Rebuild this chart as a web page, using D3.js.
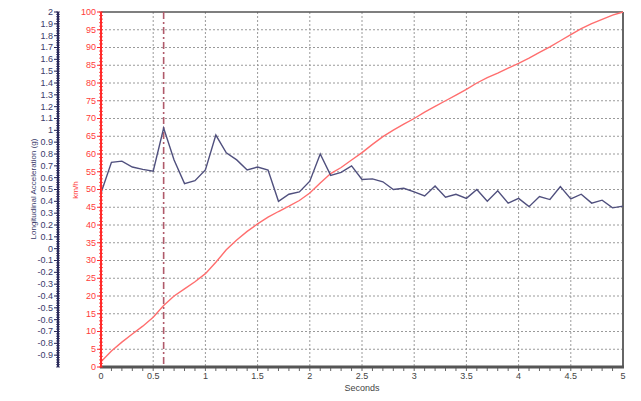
<!DOCTYPE html>
<html>
<head>
<meta charset="utf-8">
<script src="https://cdn.jsdelivr.net/npm/d3@7"></script>
<style>
  body { margin: 0; background: #fff; }
  svg { font-family: "Liberation Sans", Arial, sans-serif; }
</style>
</head>
<body>
<svg id="chart" width="641" height="401"></svg>
<script>
// time samples every 0.1 s
const times = d3.range(0, 51).map(i => i / 10);

// longitudinal acceleration (g)
const accel = [0.47, 0.73, 0.74, 0.69, 0.67, 0.655, 1.02, 0.75, 0.55, 0.575,
  0.665, 0.96, 0.81, 0.75, 0.665, 0.69, 0.665, 0.40, 0.46, 0.48,
  0.57, 0.80, 0.62, 0.645, 0.70, 0.585, 0.59, 0.565, 0.50, 0.51,
  0.48, 0.445, 0.53, 0.435, 0.46, 0.425, 0.50, 0.40, 0.49, 0.385,
  0.425, 0.355, 0.44, 0.415, 0.525, 0.42, 0.46, 0.385, 0.41, 0.345, 0.36];

// speed (km/h)
const speed = [1.5, 4.5, 7, 9.3, 11.5, 14, 17.3, 20, 22, 24,
  26.3, 29.5, 33, 35.8, 38.2, 40.3, 42.2, 43.8, 45.3, 46.9,
  49, 51.8, 54.5, 56.2, 58.3, 60.4, 62.7, 64.9, 66.7, 68.4,
  70, 71.8, 73.4, 75, 76.6, 78.2, 80, 81.5, 82.8, 84.2,
  85.5, 87, 88.6, 90.2, 91.9, 93.6, 95.3, 96.7, 97.9, 99.1, 100];

const markerTime = 0.6;

const accelTicks = d3.range(-9, 21).map(i => i / 10);
const speedTicks = d3.range(0, 101, 5);
const timeTicks = d3.range(0, 11).map(i => i / 2);

const svg = d3.select("#chart");

// scales
const x = d3.scaleLinear().domain([0, 5]).range([101, 623]);
const yG = d3.scaleLinear().domain([-1, 2]).range([367, 12]);
const yV = d3.scaleLinear().domain([0, 100]).range([367, 12]);

const fmt = d => String(+d.toFixed(1));

// grid lines
svg.append("g")
  .selectAll("line")
  .data(timeTicks.filter(t => t > 0 && t < 5))
  .join("line")
  .attr("x1", d => x(d)).attr("x2", d => x(d))
  .attr("y1", yV(100)).attr("y2", yV(0))
  .attr("stroke", "#9a9a9a")
  .attr("stroke-width", 1)
  .attr("stroke-dasharray", "2,2");

svg.append("g")
  .selectAll("line")
  .data(speedTicks.filter(v => v > 0 && v < 100))
  .join("line")
  .attr("x1", x(0)).attr("x2", x(5))
  .attr("y1", d => yV(d)).attr("y2", d => yV(d))
  .attr("stroke", "#9a9a9a")
  .attr("stroke-width", 1)
  .attr("stroke-dasharray", "2,2");

// frame: top and right
svg.append("line")
  .attr("x1", x(0)).attr("x2", x(5))
  .attr("y1", yV(100)).attr("y2", yV(100))
  .attr("stroke", "#555").attr("stroke-width", 1.5);
svg.append("line")
  .attr("x1", x(5)).attr("x2", x(5))
  .attr("y1", yV(100)).attr("y2", yV(0))
  .attr("stroke", "#666").attr("stroke-width", 2);

// marker line
svg.append("line")
  .attr("x1", x(markerTime)).attr("x2", x(markerTime))
  .attr("y1", yV(100)).attr("y2", yV(0))
  .attr("stroke", "#b05a6a")
  .attr("stroke-width", 1.6)
  .attr("stroke-dasharray", "7,3,2,3");

// speed line
svg.append("path")
  .datum(speed)
  .attr("fill", "none")
  .attr("stroke", "#ff6e6e")
  .attr("stroke-width", 1.4)
  .attr("d", d3.line().x((d, i) => x(times[i])).y(d => yV(d)));

// acceleration line
svg.append("path")
  .datum(accel)
  .attr("fill", "none")
  .attr("stroke", "#50507e")
  .attr("stroke-width", 1.4)
  .attr("d", d3.line().x((d, i) => x(times[i])).y(d => yG(d)));

// x axis
const xAxis = svg.append("g").attr("transform", `translate(0,${yV(0)})`);
xAxis.selectAll(".minor")
  .data(d3.range(1, 50).map(i => i / 10))
  .join("line")
  .attr("x1", d => x(d)).attr("x2", d => x(d))
  .attr("y1", 1).attr("y2", 4)
  .attr("stroke", "#666");
xAxis.append("line")
  .attr("x1", x(0) - 1).attr("x2", x(5) + 1)
  .attr("stroke", "#555").attr("stroke-width", 3);
xAxis.selectAll("text")
  .data(timeTicks)
  .join("text")
  .attr("x", d => x(d))
  .attr("y", 12)
  .attr("text-anchor", "middle")
  .attr("fill", "#444")
  .style("font-size", "9px")
  .text(fmt);

svg.append("text")
  .attr("x", 362).attr("y", 391)
  .attr("text-anchor", "middle")
  .attr("fill", "#444")
  .style("font-size", "9px")
  .text("Seconds");

// acceleration axis (left)
const gAxis = svg.append("g").attr("transform", "translate(58,0)");
gAxis.selectAll(".minor")
  .data(d3.range(-50, 101).map(i => i / 50))
  .join("line")
  .attr("x1", -2).attr("x2", 2)
  .attr("y1", d => yG(d)).attr("y2", d => yG(d))
  .attr("stroke", "#2a2a5a").attr("stroke-width", 0.8);
gAxis.append("line")
  .attr("y1", yG(2)).attr("y2", yG(-1))
  .attr("stroke", "#2a2a5a").attr("stroke-width", 2);
gAxis.selectAll(".major")
  .data(accelTicks)
  .join("line")
  .attr("x1", -4).attr("x2", 0)
  .attr("y1", d => yG(d)).attr("y2", d => yG(d))
  .attr("stroke", "#2a2a5a");
gAxis.selectAll("text")
  .data(accelTicks)
  .join("text")
  .attr("x", -5)
  .attr("y", d => yG(d))
  .attr("dy", "0.33em")
  .attr("text-anchor", "end")
  .attr("fill", "#3a3a6a")
  .style("font-size", "9px")
  .text(fmt);

svg.append("text")
  .attr("transform", "translate(36,189) rotate(-90)")
  .attr("text-anchor", "middle")
  .attr("fill", "#3a3a6a")
  .style("font-size", "8px")
  .text("Longitudinal Acceleration (g)");

// speed axis
const vAxis = svg.append("g").attr("transform", `translate(${x(0)},0)`);
vAxis.selectAll(".minor")
  .data(d3.range(0, 101))
  .join("line")
  .attr("x1", -2).attr("x2", 2)
  .attr("y1", d => yV(d)).attr("y2", d => yV(d))
  .attr("stroke", "#ff2a2a").attr("stroke-width", 0.8);
vAxis.append("line")
  .attr("y1", yV(100)).attr("y2", yV(0))
  .attr("stroke", "#ff2a2a").attr("stroke-width", 2);
vAxis.selectAll(".major")
  .data(speedTicks)
  .join("line")
  .attr("x1", -4).attr("x2", 0)
  .attr("y1", d => yV(d)).attr("y2", d => yV(d))
  .attr("stroke", "#ff2a2a");
vAxis.selectAll("text")
  .data(speedTicks)
  .join("text")
  .attr("x", -5)
  .attr("y", d => yV(d))
  .attr("dy", "0.33em")
  .attr("text-anchor", "end")
  .attr("fill", "#ff3a3a")
  .style("font-size", "9px")
  .text(d => d);

svg.append("text")
  .attr("transform", "translate(78,190) rotate(-90)")
  .attr("text-anchor", "middle")
  .attr("fill", "#ff3a3a")
  .style("font-size", "8px")
  .text("km/h");
</script>
</body>
</html>
